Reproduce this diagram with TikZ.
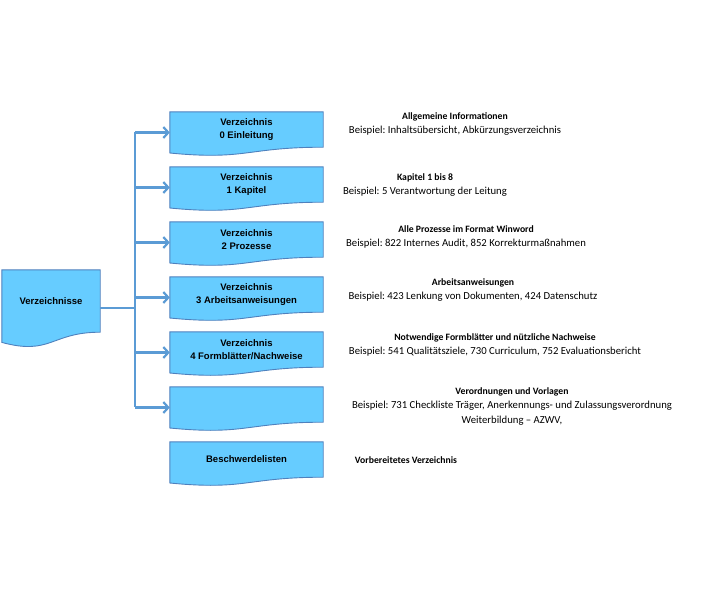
\documentclass[tikz,border=0pt]{standalone}
\usepackage{fontspec}
\setmainfont{Liberation Sans}
\newfontfamily\calibri{Carlito}
\usetikzlibrary{arrows.meta,backgrounds}
\definecolor{boxfill}{HTML}{66CCFF}
\definecolor{boxline}{HTML}{4F81BD}
\definecolor{linkblue}{HTML}{5B9BD5}
\newcommand\infotitle[1]{\textbf{\fontsize{9.7}{14.5}\selectfont #1}}
\frenchspacing
\begin{document}
\begin{tikzpicture}[x=1pt,y=-1pt,
  doc/.style={minimum width=153pt,minimum height=35pt,inner sep=0pt,align=center,
    font=\fontsize{9.5}{13}\selectfont\bfseries},
  docshape/.style={fill=boxfill,draw=boxline,line width=0.9pt},
  link/.style={draw=linkblue,line width=2.2pt},
  info/.style={anchor=north,align=center,font=\calibri\fontsize{10.7}{14.5}\selectfont},
  ]
\useasboundingbox (0,0) rectangle (701,600);
% main box
\node[doc,minimum width=98pt,minimum height=62pt] (main) at (51,301) {Verzeichnisse};
% boxes on the right
\node[doc] (v0) at (246.5,129.5) {Verzeichnis\\0 Einleitung};
\node[doc] (v1) at (246.5,184.5) {Verzeichnis\\1 Kapitel};
\node[doc] (v2) at (246.5,239.5) {Verzeichnis\\2 Prozesse};
\node[doc] (v3) at (246.5,294.5) {Verzeichnis\\3 Arbeitsanweisungen};
\node[doc] (v4) at (246.5,349.5) {Verzeichnis\\4 Formbl\"atter/Nachweise};
\node[doc] (v5) at (246.5,404.5) {};
\node[doc] (v6) at (246.5,459.5) {Beschwerdelisten};
% document shapes
\begin{scope}[on background layer]
\foreach \n/\c/\l in {main/23.6/10.2,v0/13.3/5.8,v1/13.3/5.8,v2/13.3/5.8,v3/13.3/5.8,v4/13.3/5.8,v5/13.3/5.8,v6/13.3/5.8}
  \draw[docshape] (\n.north west) -- (\n.north east) -- (\n.south east)
    .. controls (\n.south) and ([yshift=-\c pt]\n.south) .. ([yshift=-\l pt]\n.south west) -- cycle;
\end{scope}
% connectors
\coordinate (j) at (135,308);
\coordinate (top) at (135,132);
\coordinate (bot) at (135,407);
\draw[link] ([yshift=-7pt]main.east) -- (j);
\draw[link] (top) -- (bot);
\foreach \n in {v0,v1,v2,v3,v4,v5}
  \draw[link,-{Straight Barb[length=5pt,width=11pt]}] ([yshift=-3pt]\n.west) ++(-35,0) -- ([yshift=-3pt]\n.west);
% descriptions
\node[info] (d0) at (455,109) {\infotitle{Allgemeine Informationen}\\Beispiel: Inhaltsübersicht, Abkürzungsverzeichnis};
\node[info] (d1) at (425,170) {\infotitle{Kapitel 1 bis 8}\\Beispiel: 5 Verantwortung der Leitung};
\node[info] (d2) at (466,222) {\infotitle{Alle Prozesse im Format Winword}\\Beispiel: 822 Internes Audit, 852 Korrekturmaßnahmen};
\node[info] (d3) at (473,275) {\infotitle{Arbeitsanweisungen}\\Beispiel: 423 Lenkung von Dokumenten, 424 Datenschutz};
\node[info] (d4) at (495,330) {\infotitle{Notwendige Formblätter und nützliche Nachweise}\\Beispiel: 541 Qualitätsziele, 730 Curriculum, 752 Evaluationsbericht};
\node[info] (d5) at (512,384) {\infotitle{Verordnungen und Vorlagen}\\Beispiel: 731 Checkliste Träger, Anerkennungs- und Zulassungsverordnung\\Weiterbildung – AZWV,};
\node[info] (d6) at (406,453) {\infotitle{Vorbereitetes Verzeichnis}};
\end{tikzpicture}
\end{document}
